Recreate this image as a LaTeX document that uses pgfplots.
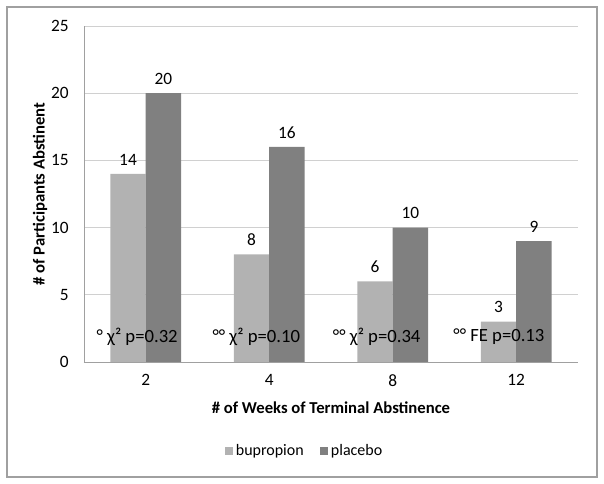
\documentclass[border=0pt]{standalone}
\usepackage{pgfplots}
\pgfplotsset{compat=1.18}
\usepackage{fontspec}
\setmainfont{Carlito}
\definecolor{bup}{HTML}{B2B2B2}
\definecolor{plc}{HTML}{808080}
\definecolor{gridc}{HTML}{D0D0D0}
\definecolor{axc}{HTML}{A0A0A0}
\begin{document}
\begin{tikzpicture}[x=0.75pt,y=0.75pt]
\begin{axis}[name=ax, at={(0,0)}, anchor=south west,
  scale only axis, width=370.5pt, height=252pt,
  ybar=0pt, bar width=26.6pt,
  xmin=-0.5, xmax=3.5, ymin=0, ymax=25,
  xtick={0,1,2,3}, xticklabels={2,4,8,12},
  ytick={0,5,10,15,20,25},
  /pgf/number format/assume math mode=true,
  tick label style={font=\fontsize{13}{15}\selectfont, color=black},
  major tick length=0pt,
  ymajorgrids, grid style={gridc, line width=0.6pt},
  axis x line*=bottom, axis y line*=left,
  axis line style={axc, line width=0.7pt, -},
  xticklabel style={yshift=-6pt},
  yticklabel style={xshift=-8pt},
  xlabel={\textbf{\# of Weeks of Terminal Abstinence}},
  ylabel={\textbf{\# of Participants Abstinent}},
  label style={font=\fontsize{12.5}{14}\selectfont},
  xlabel style={at={(axis description cs:0.5,-0.137)}, anchor=center},
  ylabel style={at={(axis description cs:-0.089,0.5)}, anchor=center},
  nodes near coords,
  nodes near coords style={font=\fontsize{13}{15}\selectfont, color=black, yshift=3pt},
  legend columns=2,
  legend style={draw=none, at={(0.447,-0.265)}, anchor=center, font=\fontsize{12}{14}\selectfont,
    /tikz/every even column/.append style={column sep=10pt}},
  legend image code/.code={\fill[#1] (0pt,-3.2pt) rectangle (6.4pt,3.2pt);},
]
\addplot[fill=bup, draw=none] coordinates {(0,14) (1,8) (2,6) (3,3)};
\addplot[fill=plc, draw=none] coordinates {(0,20) (1,16) (2,10) (3,9)};
\legend{bupropion, placebo}
\begin{scope}[font=\fontsize{14}{16}\selectfont]
\node at (axis cs:-0.07,1.86) {° χ² p=0.32};
\node at (axis cs:0.895,1.86) {°° χ² p=0.10};
\node at (axis cs:1.87,1.86) {°° χ² p=0.34};
\node at (axis cs:2.86,1.86) {°° FE p=0.13};
\end{scope}
\end{axis}
\draw[color=axc, line width=0.8pt] (-57.75pt,-86.25pt) rectangle (384.75pt,266.25pt);
\pgfresetboundingbox
\useasboundingbox (-63pt,-91.5pt) rectangle (390pt,271.5pt);
\end{tikzpicture}
\end{document}
